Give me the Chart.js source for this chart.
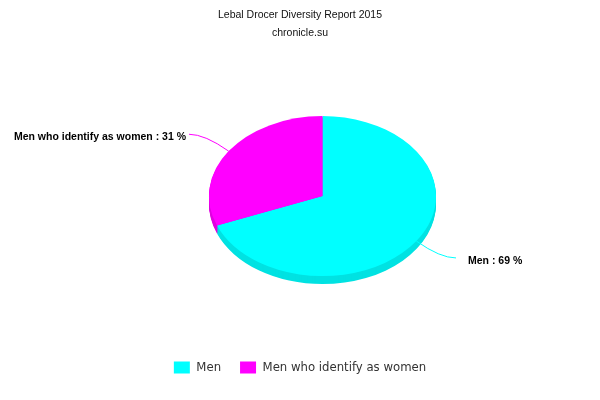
<!DOCTYPE html>
<html>
<head>
<meta charset="utf-8">
<script src="https://cdn.jsdelivr.net/npm/chart.js@4/dist/chart.umd.min.js"></script>
<style>
  html, body { margin: 0; padding: 0; background: #fff; }
  #chart { display: block; }
</style>
</head>
<body>
<canvas id="chart" width="600" height="400"></canvas>
<script>
// Datos del gráfico
const titleText = "Lebal Drocer Diversity Report 2015";
const subtitleText = "chronicle.su";
const categories = ["Men", "Men who identify as women"];
const shares = [69, 31];
const topColors = ["#00FFFF", "#FF00FF"];
const sideColors = ["#00E2E2", "#E000E0"];

// Ajustes del efecto 3D
const PIE_RADIUS = 113.5;
const TILT = 0.705;      // aplastamiento vertical
const DEPTH = 8;         // grosor del pastel
const SHIFT_X = 22.5;    // el pastel va algo a la derecha del centro
const LABEL_DIST = 30;

function squash(ctx, x, y, dy) {
    ctx.translate(x + SHIFT_X, y + dy);
    ctx.scale(1, TILT);
    ctx.translate(-x, -y);
}

const pie3d = {
    id: "pie3d",
    beforeDatasetsDraw(chart) {
        const ctx = chart.ctx;
        const arcs = chart.getDatasetMeta(0).data;
        // Pared lateral: el sector repetido hacia abajo
        for (let d = DEPTH; d > 0; d--) {
            arcs.forEach((arc, i) => {
                const p = arc.getProps(["x", "y", "startAngle", "endAngle", "outerRadius"]);
                ctx.save();
                squash(ctx, p.x, p.y, d);
                ctx.beginPath();
                ctx.moveTo(p.x, p.y);
                ctx.arc(p.x, p.y, p.outerRadius, p.startAngle, p.endAngle);
                ctx.closePath();
                ctx.fillStyle = sideColors[i];
                ctx.fill();
                ctx.restore();
            });
        }
        ctx.save();
        squash(ctx, arcs[0].x, arcs[0].y, 0);
    },
    afterDatasetsDraw(chart) {
        const ctx = chart.ctx;
        ctx.restore();
        // Etiquetas con conector
        const arcs = chart.getDatasetMeta(0).data;
        arcs.forEach((arc, i) => {
            const p = arc.getProps(["x", "y", "startAngle", "endAngle", "outerRadius"]);
            const mid = (p.startAngle + p.endAngle) / 2;
            const cx = p.x + SHIFT_X;
            const c = Math.cos(mid), s = Math.sin(mid);
            const dir = c >= 0 ? 1 : -1;
            const ax = cx + p.outerRadius * c;
            const ay = p.y + p.outerRadius * TILT * s;
            const ly = p.y + (p.outerRadius * TILT + LABEL_DIST) * s;
            const ex = cx + dir * (p.outerRadius + 20);

            ctx.save();
            ctx.strokeStyle = topColors[i];
            ctx.lineWidth = 1;
            ctx.beginPath();
            ctx.moveTo(ex, ly);
            ctx.quadraticCurveTo(ax + (ex - ax) * 0.6, ly, ax, ay);
            ctx.stroke();

            ctx.fillStyle = "#000";
            ctx.font = "bold 10.5px 'Liberation Sans', Arial, sans-serif";
            ctx.textBaseline = "middle";
            ctx.textAlign = dir > 0 ? "left" : "right";
            const txt = categories[i] + " : " + shares[i] + " %";
            ctx.fillText(txt, dir > 0 ? ex + 12 : ex - 3, ly + 3);
            ctx.restore();
        });
    }
};

const ctx = document.getElementById("chart").getContext("2d");
new Chart(ctx, {
    type: "pie",
    data: {
        labels: categories,
        datasets: [{
            data: shares,
            backgroundColor: topColors,
            borderWidth: 0
        }]
    },
    options: {
        responsive: false,
        animation: false,
        radius: PIE_RADIUS,
        layout: { padding: { top: 0, bottom: 16 } },
        plugins: {
            title: {
                display: true,
                text: titleText,
                color: "#111",
                font: { family: "'Liberation Sans', Arial", size: 10.5, weight: "normal" },
                padding: { top: 9, bottom: 5 }
            },
            subtitle: {
                display: true,
                text: subtitleText,
                color: "#111",
                font: { family: "'Liberation Sans', Arial", size: 10.5, weight: "normal" },
                padding: { top: 0, bottom: 11 }
            },
            legend: {
                position: "bottom",
                labels: {
                    boxWidth: 16,
                    boxHeight: 12,
                    padding: 19,
                    color: "#333",
                    font: { family: "'DejaVu Sans Condensed', 'DejaVu Sans', sans-serif", size: 13 }
                }
            },
            tooltip: { enabled: false }
        }
    },
    plugins: [pie3d]
});
</script>
</body>
</html>
